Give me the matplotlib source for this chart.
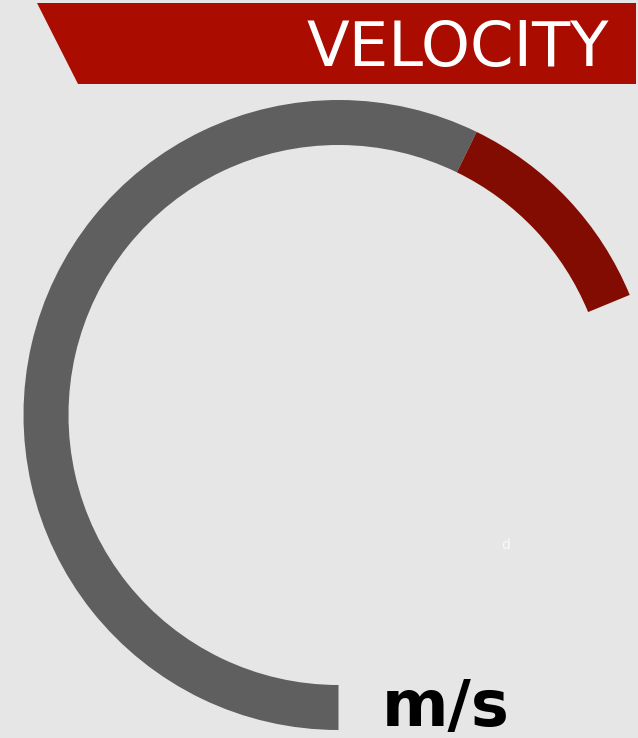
import matplotlib.pyplot as plt
from matplotlib.patches import Wedge, Polygon

# gauge data
seg_labels = ["base", "current"]
seg_values = [76.3, 15.4]          # share of the gauge range
seg_colors = ["#5f5f5f", "#820c02"]
gauge_max = 100.0
gauge_sweep = 270.0                # degrees covered by gauge_max
start_angle = 270.0                # bottom of the dial, sweeping clockwise

title = "VELOCITY"
unit = "m/s"
marker_text = "d"

W, H = 638, 738
BG = "#e6e6e6"

fig = plt.figure(figsize=(W / 100, H / 100), dpi=100)
fig.patch.set_facecolor(BG)
ax = fig.add_axes([0, 0, 1, 1])
ax.set_xlim(0, W)
ax.set_ylim(0, H)
ax.set_aspect("equal")
ax.axis("off")

# banner
banner = Polygon([(37, H - 3), (636, H - 3), (636, H - 84), (78, H - 84)],
                 closed=True, facecolor="#aa0c00", edgecolor="none")
ax.add_patch(banner)
ax.text(609, H - 66, title, color="white", fontsize=45, ha="right", va="baseline",
        family="DejaVu Sans")

# arc segments
cx, cy = 338.5, H - 415
r_out, width = 315, 45
theta = start_angle
for val, col in zip(seg_values, seg_colors):
    span = val / gauge_max * gauge_sweep
    ax.add_patch(Wedge((cx, cy), r_out, theta - span, theta, width=width,
                       facecolor=col, edgecolor="none"))
    theta -= span

ax.text(446, H - 726, unit, color="black", fontsize=46, ha="center", va="baseline",
        family="DejaVu Sans", fontweight="bold")
ax.text(505.5, H - 545, marker_text, color="#f8f8f8", fontsize=10, ha="center", va="center")

fig.savefig("out.png", dpi=100, facecolor=BG)
